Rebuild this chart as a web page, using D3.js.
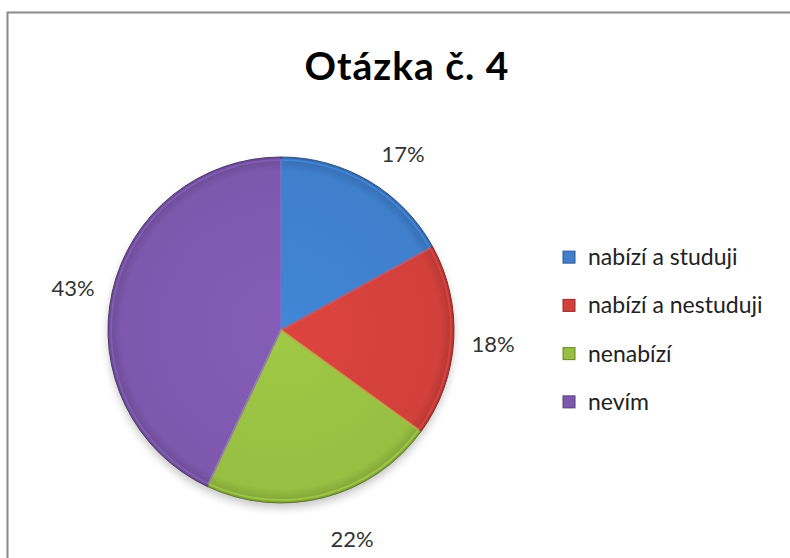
<!DOCTYPE html>
<html><head><meta charset="utf-8">
<script src="https://cdn.jsdelivr.net/npm/d3@7/dist/d3.min.js"></script>
<style>html,body{margin:0;padding:0;background:#fff}svg{display:block}</style>
</head><body>
<script>
const title = "Otázka č. 4";
const categories = ["nabízí a studuji", "nabízí a nestuduji", "nenabízí", "nevím"];
const values = [17, 18, 22, 43];
const colors = ["#3f7fcc", "#d2403c", "#97bf42", "#7e58ad"];

const W = 790, H = 558;
const svg = d3.select("body").append("svg").attr("width", W).attr("height", H);
const defs = svg.append("defs");

// border
svg.append("path").attr("d", `M7.5,${H} L7.5,12.5 L${W},12.5`).attr("fill", "none").attr("stroke", "#8a8a8a").attr("stroke-width", 2);

svg.append("text").attr("x", 407).attr("y", 80).attr("text-anchor", "middle")
  .attr("font-family", "Lato, 'Open Sans', sans-serif").attr("font-weight", "bold")
  .attr("font-size", 39).attr("letter-spacing", 1).attr("fill", "#000").text(title);

const cx = 281, cy = 330, R = 173;
const total = d3.sum(values);
const pie = d3.pie().sort(null).value(d => d)(values);
const arc = d3.arc().innerRadius(0).outerRadius(R);

// shadow
const f = defs.append("filter").attr("id", "sh").attr("x", "-20%").attr("y", "-20%").attr("width", "140%").attr("height", "140%");
f.append("feGaussianBlur").attr("stdDeviation", 4);
svg.append("circle").attr("cx", cx).attr("cy", cy + 5).attr("r", R).attr("fill", "#000").attr("opacity", 0.22).attr("filter", "url(#sh)");

colors.forEach((c, i) => {
  const g = defs.append("radialGradient").attr("id", "g" + i)
    .attr("gradientUnits", "userSpaceOnUse").attr("cx", 0).attr("cy", 0).attr("r", R);
  g.append("stop").attr("offset", "0%").attr("stop-color", d3.color(c).brighter(0.15));
  g.append("stop").attr("offset", "92%").attr("stop-color", c);
  g.append("stop").attr("offset", "100%").attr("stop-color", d3.color(c).darker(0.5));
});

const gp = svg.append("g").attr("transform", `translate(${cx},${cy})`);
gp.selectAll("path.s").data(pie).join("path").attr("class", "s")
  .attr("d", arc).attr("fill", (d, i) => `url(#g${i})`)
  .attr("stroke", (d, i) => d3.color(colors[i]).darker(1.2)).attr("stroke-width", 1);
// inner bevel highlight
const arcIn = d3.arc().innerRadius(0).outerRadius(R - 3);
gp.selectAll("path.h").data(pie).join("path").attr("class", "h")
  .attr("d", arcIn).attr("fill", "none")
  .attr("stroke", (d, i) => d3.color(colors[i]).brighter(0.6)).attr("stroke-opacity", 0.45).attr("stroke-width", 2);

// labels (pie order: 17, 18, 22, 43)
const labelPos = [[403, 162], [493, 352], [352, 547], [73, 296]];
gp.selectAll("text.l").data(pie).join("text").attr("class", "l")
  .attr("x", (d, i) => labelPos[i][0] - cx).attr("y", (d, i) => labelPos[i][1] - cy)
  .attr("text-anchor", "middle")
  .attr("font-family", "Lato, 'Open Sans', sans-serif").attr("font-size", 22).attr("fill", "#333")
  .text(d => Math.round(d.value / total * 100) + "%");

// legend
const lg = svg.append("g");
const ly = d3.scaleBand().domain(categories).range([233, 426]);
categories.forEach((c, i) => {
  const y = ly(c) + ly.bandwidth() / 2;
  lg.append("rect").attr("x", 563).attr("y", y - 6).attr("width", 12).attr("height", 12)
    .attr("fill", colors[i]).attr("stroke", d3.color(colors[i]).darker(1)).attr("stroke-width", 1);
  lg.append("text").attr("x", 588).attr("y", y).attr("dy", "0.35em")
    .attr("font-family", "Lato, 'Open Sans', sans-serif").attr("font-size", 23).attr("fill", "#222").text(c);
});
</script>
</body></html>
